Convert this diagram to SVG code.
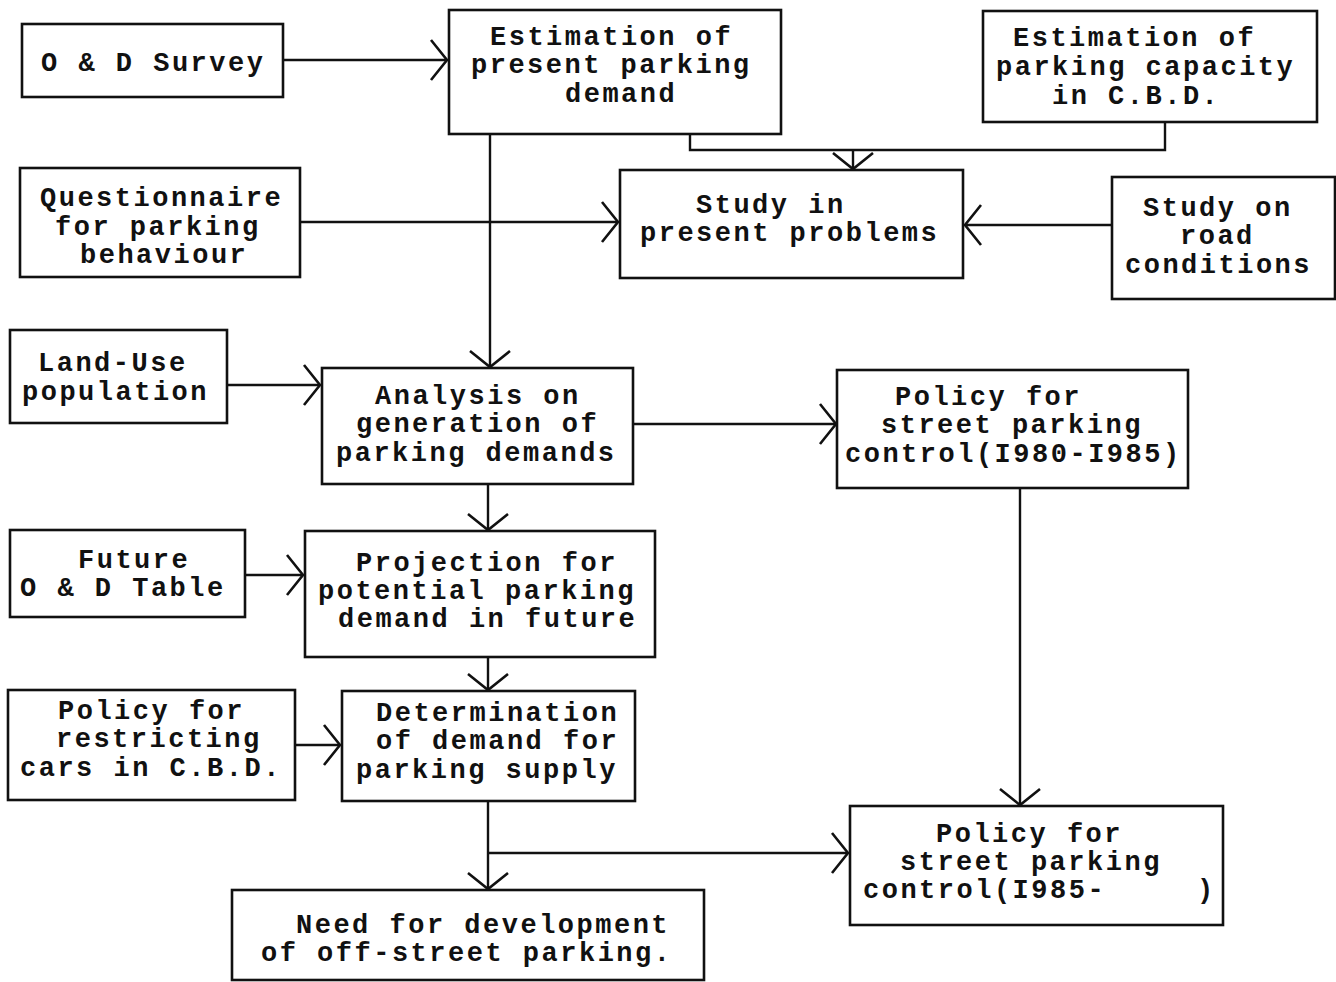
<svg xmlns="http://www.w3.org/2000/svg" width="1336" height="982" viewBox="0 0 1336 982">
<defs>
<style>
.box{fill:#fff;stroke:#111;stroke-width:2.6}
.t{font-family:"Liberation Mono","Courier New",monospace;font-weight:bold;font-size:27px;letter-spacing:2.5px;fill:#111}
.c{fill:none;stroke:#111;stroke-width:2.4}
</style>
<marker id="ah" markerUnits="userSpaceOnUse" markerWidth="40" markerHeight="50" refX="0" refY="0" viewBox="-20 -25 40 50" orient="auto" overflow="visible">
<path d="M-16,-20 L0,0 L-16,20" fill="none" stroke="#111" stroke-width="2.6"/>
</marker>
</defs>
<rect width="1336" height="982" fill="#fff"/>
<g id="connectors">
<path class="c" d="M283,60 H447" marker-end="url(#ah)"/>
<path class="c" d="M690,134 V150 H1165 V122"/>
<path class="c" d="M853,150 V169" marker-end="url(#ah)"/>
<path class="c" d="M300,222 H618" marker-end="url(#ah)"/>
<path class="c" d="M1112,225 H965" marker-end="url(#ah)"/>
<path class="c" d="M490,134 V367" marker-end="url(#ah)"/>
<path class="c" d="M227,385 H320" marker-end="url(#ah)"/>
<path class="c" d="M633,424 H836" marker-end="url(#ah)"/>
<path class="c" d="M488,484 V530" marker-end="url(#ah)"/>
<path class="c" d="M245,575 H303" marker-end="url(#ah)"/>
<path class="c" d="M488,657 V690" marker-end="url(#ah)"/>
<path class="c" d="M295,745 H340" marker-end="url(#ah)"/>
<path class="c" d="M488,801 V889" marker-end="url(#ah)"/>
<path class="c" d="M488,853 H848" marker-end="url(#ah)"/>
<path class="c" d="M1020,488 V805" marker-end="url(#ah)"/>
</g>
<g id="od-survey"><rect class="box" x="22" y="24" width="261" height="73"/><text class="t" x="41" y="71">O &amp; D Survey</text></g>
<g id="est-present"><rect class="box" x="449" y="10" width="332" height="124"/>
<text class="t" x="490" y="45">Estimation of</text><text class="t" x="471" y="73">present parking</text><text class="t" x="565" y="102">demand</text></g>
<g id="est-capacity"><rect class="box" x="983" y="11" width="334" height="111"/>
<text class="t" x="1013" y="46">Estimation of</text><text class="t" x="996" y="75">parking capacity</text><text class="t" x="1052" y="104">in C.B.D.</text></g>
<g id="study-problems"><rect class="box" x="620" y="170" width="343" height="108"/>
<text class="t" x="696" y="213">Study in</text><text class="t" x="640" y="241">present problems</text></g>
<g id="study-road"><rect class="box" x="1112" y="177" width="223" height="122"/>
<text class="t" x="1143" y="216">Study on</text><text class="t" x="1180" y="244">road</text><text class="t" x="1125" y="273">conditions</text></g>
<g id="questionnaire"><rect class="box" x="20" y="168" width="280" height="109"/>
<text class="t" x="40" y="206">Questionnaire</text><text class="t" x="55" y="235">for parking</text><text class="t" x="80" y="263">behaviour</text></g>
<g id="land-use"><rect class="box" x="10" y="330" width="217" height="93"/>
<text class="t" x="38" y="371">Land-Use</text><text class="t" x="22" y="400">population</text></g>
<g id="analysis"><rect class="box" x="322" y="368" width="311" height="116"/>
<text class="t" x="375" y="404">Analysis on</text><text class="t" x="356" y="432">generation of</text><text class="t" x="336" y="461">parking demands</text></g>
<g id="policy-1980"><rect class="box" x="837" y="370" width="351" height="118"/>
<text class="t" x="895" y="405">Policy for</text><text class="t" x="881" y="433">street parking</text><text class="t" x="845" y="462">control(I980-I985)</text></g>
<g id="future-od"><rect class="box" x="10" y="530" width="235" height="87"/>
<text class="t" x="78" y="568">Future</text><text class="t" x="20" y="596">O &amp; D Table</text></g>
<g id="projection"><rect class="box" x="305" y="531" width="350" height="126"/>
<text class="t" x="356" y="571">Projection for</text><text class="t" x="318" y="599">potential parking</text><text class="t" x="338" y="627">demand in future</text></g>
<g id="policy-restrict"><rect class="box" x="8" y="690" width="287" height="110"/>
<text class="t" x="58" y="719">Policy for</text><text class="t" x="56" y="747">restricting</text><text class="t" x="20" y="776">cars in C.B.D.</text></g>
<g id="determination"><rect class="box" x="342" y="691" width="293" height="110"/>
<text class="t" x="376" y="721">Determination</text><text class="t" x="376" y="749">of demand for</text><text class="t" x="356" y="778">parking supply</text></g>
<g id="need"><rect class="box" x="232" y="890" width="472" height="90"/>
<text class="t" x="296" y="933">Need for development</text><text class="t" x="261" y="961">of off-street parking.</text></g>
<g id="policy-1985"><rect class="box" x="850" y="806" width="373" height="119"/>
<text class="t" x="936" y="842">Policy for</text><text class="t" x="900" y="870">street parking</text><text class="t" x="863" y="898">control(I985-</text><text class="t" x="1197" y="898">)</text></g>
</svg>
